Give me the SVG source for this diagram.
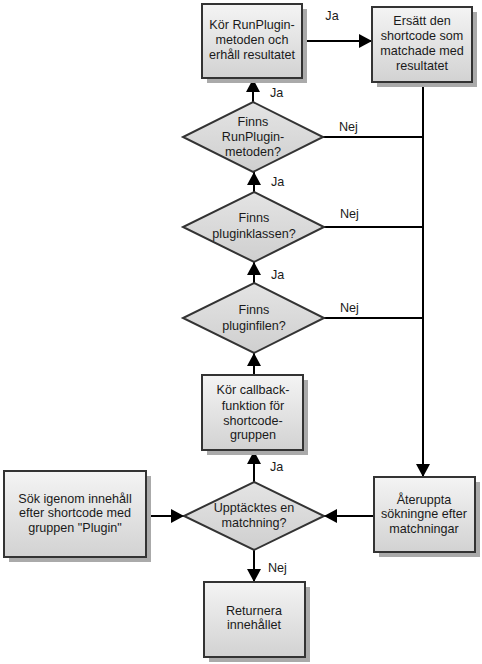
<svg xmlns="http://www.w3.org/2000/svg" width="482" height="664" viewBox="0 0 482 664">
<defs>
<linearGradient id="g" x1="0" y1="0" x2="0" y2="1">
<stop offset="0" stop-color="#f4f4f4"/>
<stop offset="1" stop-color="#d2d2d2"/>
</linearGradient>
<linearGradient id="gd" x1="0" y1="0" x2="0" y2="1">
<stop offset="0" stop-color="#e4e4e4"/>
<stop offset="1" stop-color="#cfcfcf"/>
</linearGradient>
<marker id="ah" markerUnits="userSpaceOnUse" markerWidth="14" markerHeight="14" refX="13" refY="7" orient="auto">
<path d="M0,0 L13,7 L0,14 Z" fill="#000"/>
</marker>
</defs>
<style>
.box{fill:url(#g);stroke:#333;stroke-width:2}
.sh{fill:#aaaaaa}
.dia{fill:url(#gd);stroke:#333;stroke-width:2}
text{font-family:"Liberation Sans",Arial,sans-serif;font-size:12.6px;fill:#1a1a1a}
.c{text-anchor:middle}
.ln{stroke:#000;stroke-width:2;fill:none}
.ar{marker-end:url(#ah)}
</style>
<rect width="482" height="664" fill="#fff"/>
<g id="connectors">
<line class="ln ar" x1="302" y1="41" x2="372" y2="41"/>
<line class="ln ar" x1="253" y1="102" x2="253" y2="79"/>
<line class="ln ar" x1="254" y1="192" x2="254" y2="172"/>
<line class="ln ar" x1="254" y1="283" x2="254" y2="262"/>
<line class="ln ar" x1="254" y1="375" x2="254" y2="353"/>
<line class="ln ar" x1="254" y1="482" x2="254" y2="451"/>
<line class="ln ar" x1="254" y1="550" x2="254" y2="582"/>
<line class="ln ar" x1="146" y1="516" x2="184" y2="516"/>
<line class="ln ar" x1="374" y1="516" x2="324" y2="516"/>
<line class="ln ar" x1="423" y1="82" x2="423" y2="477"/>
<line class="ln" x1="323" y1="137" x2="423" y2="137"/>
<line class="ln" x1="324" y1="227" x2="423" y2="227"/>
<line class="ln" x1="324" y1="318" x2="423" y2="318"/>
<text x="332" y="20" class="c">Ja</text>
<text x="270" y="97">Ja</text>
<text x="339" y="131">Nej</text>
<text x="271" y="186">Ja</text>
<text x="340" y="218">Nej</text>
<text x="271" y="279">Ja</text>
<text x="340" y="312">Nej</text>
<text x="270" y="471">Ja</text>
<text x="268" y="572">Nej</text>
</g>
<g id="n1">
<rect class="sh" x="207" y="9" width="100" height="74"/>
<rect class="box" x="202" y="4" width="100" height="74"/>
<text class="c" x="252" y="29">Kör RunPlugin-</text>
<text class="c" x="252" y="44">metoden och</text>
<text class="c" x="252" y="59">erhåll resultatet</text>
</g>
<g id="n2">
<rect class="sh" x="377" y="12" width="100" height="75"/>
<rect class="box" x="372" y="7" width="100" height="75"/>
<text class="c" x="422" y="25">Ersätt den</text>
<text class="c" x="422" y="40">shortcode som</text>
<text class="c" x="422" y="55">matchade med</text>
<text class="c" x="422" y="70">resultatet</text>
</g>
<g id="d1">
<polygon class="dia" points="253,102 323,137 253,172 183,137"/>
<text class="c" x="253" y="126">Finns</text>
<text class="c" x="253" y="141">RunPlugin-</text>
<text class="c" x="253" y="156">metoden?</text>
</g>
<g id="d2">
<polygon class="dia" points="254,192 324,227 254,262 183,227"/>
<text class="c" x="254" y="222">Finns</text>
<text class="c" x="254" y="238">pluginklassen?</text>
</g>
<g id="d3">
<polygon class="dia" points="254,283 324,318 254,353 183,318"/>
<text class="c" x="254" y="314">Finns</text>
<text class="c" x="254" y="330">pluginfilen?</text>
</g>
<g id="n3">
<rect class="sh" x="207" y="380" width="101" height="75"/>
<rect class="box" x="202" y="375" width="101" height="75"/>
<text class="c" x="253" y="394">Kör callback-</text>
<text class="c" x="253" y="410">funktion för</text>
<text class="c" x="253" y="425">shortcode-</text>
<text class="c" x="253" y="439">gruppen</text>
</g>
<g id="n4">
<rect class="sh" x="9" y="476" width="142" height="86"/>
<rect class="box" x="4" y="471" width="142" height="86"/>
<text class="c" x="75" y="503">Sök igenom innehåll</text>
<text class="c" x="75" y="517">efter shortcode med</text>
<text class="c" x="75" y="532">gruppen "Plugin"</text>
</g>
<g id="d4">
<polygon class="dia" points="254,482 324,516 254,550 184,516"/>
<text class="c" x="254" y="512">Upptäcktes en</text>
<text class="c" x="254" y="527">matchning?</text>
</g>
<g id="n5">
<rect class="sh" x="379" y="482" width="101" height="75"/>
<rect class="box" x="374" y="477" width="101" height="75"/>
<text class="c" x="424" y="504">Återuppta</text>
<text class="c" x="424" y="518">sökningne efter</text>
<text class="c" x="424" y="533">matchningar</text>
</g>
<g id="n6">
<rect class="sh" x="209" y="587" width="101" height="75"/>
<rect class="box" x="204" y="582" width="101" height="75"/>
<text class="c" x="254" y="615">Returnera</text>
<text class="c" x="254" y="629">innehållet</text>
</g>
</svg>
